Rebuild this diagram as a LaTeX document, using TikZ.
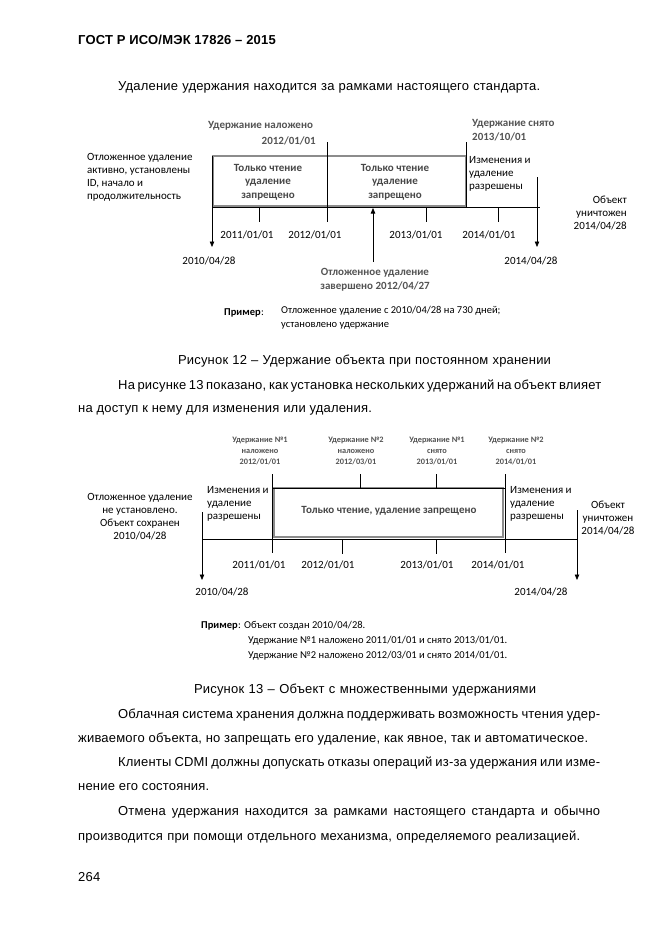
\documentclass[tikz,border=0pt]{standalone}
\usepackage{fontspec}
\setmainfont[LetterSpace=1.5]{Liberation Sans}
\newfontfamily\calf{Carlito}
\usetikzlibrary{arrows.meta}
\definecolor{lblgray}{gray}{0.33}
\definecolor{boxgray}{gray}{0.55}
\tikzset{
  body/.style={anchor=west,inner sep=0pt,font=\fontsize{13}{15}\selectfont},
  diag/.style={inner sep=0pt,font=\calf\fontsize{11}{13}\selectfont},
  lbl/.style={inner sep=0pt,text=lblgray,font=\calf\bfseries\fontsize{11}{13.5}\selectfont},
  slbl/.style={inner sep=0pt,text=lblgray,align=center,font=\calf\bfseries\fontsize{8.3}{10.8}\selectfont},
  boxtxt/.style={inner sep=0pt,text=black!72,align=center,font=\calf\bfseries\fontsize{11}{13.5}\selectfont},
  ex/.style={inner sep=0pt,anchor=west,font=\calf\fontsize{10.5}{14}\selectfont},
  ln/.style={line width=0.7pt,black},
  arr/.style={line width=0.7pt,black,-{Triangle[width=4.5pt,length=5.5pt]}},
  holdbox/.style={draw=boxgray,line width=1.4pt}
}
\begin{document}
\begin{tikzpicture}[x=1pt,y=-1pt]
\useasboundingbox (0,0) rectangle (661,935);
\fill[white] (0,0) rectangle (661,935);

% header and text
\node[body,font=\bfseries\fontsize{13}{15}\selectfont] (hdr) at (78,40) {ГОСТ Р ИСО/МЭК 17826 – 2015};
\node[body] (t1) at (118,87) {\makebox[422pt][s]{Удаление удержания находится за рамками настоящего стандарта.}};

% ---------------- Figure 12 ----------------
\draw[holdbox] (213,156) rectangle (466,206);
\coordinate (l12top) at (212,156);
\coordinate (l12bot) at (212,247);
\coordinate (tl12a) at (212,207);
\coordinate (tl12b) at (540,207);
\coordinate (d12top) at (327,142);
\coordinate (d12bot) at (327,222);
\coordinate (r12top) at (466,142);
\coordinate (r12bot) at (466,207);
\coordinate (k1a) at (259,207); \coordinate (k1b) at (259,222);
\coordinate (k2a) at (426,207); \coordinate (k2b) at (426,222);
\coordinate (k3a) at (498,207); \coordinate (k3b) at (498,222);
\coordinate (ra12top) at (537,177);
\coordinate (ra12bot) at (537,247);
\coordinate (ua12bot) at (373,262);
\coordinate (ua12top) at (373,208);
\draw[arr] (l12top) -- (l12bot);
\draw[ln] (tl12a) -- (tl12b);
\draw[ln] (d12top) -- (d12bot);
\draw[ln] (r12top) -- (r12bot);
\draw[ln] (k1a) -- (k1b);
\draw[ln] (k2a) -- (k2b);
\draw[ln] (k3a) -- (k3b);
\draw[arr] (ra12top) -- (ra12bot);
\draw[arr] (ua12bot) -- (ua12top);

\node[lbl,anchor=west] (h1a) at (208,126) {Удержание наложено};
\node[lbl,anchor=east] (h1b) at (316,141) {2012/01/01};
\node[lbl,anchor=west] (h2a) at (472,124) {Удержание снято};
\node[lbl,anchor=west] (h2b) at (472,137) {2013/10/01};
\node[diag,anchor=north west,align=left] (left12) at (87,153) {Отложенное удаление\\активно, установлены\\ID, начало и\\продолжительность};
\node[boxtxt] (b1) at (268,182) {Только чтение\\удаление\\запрещено};
\node[boxtxt] (b2) at (395,182) {Только чтение\\удаление\\запрещено};
\node[diag,anchor=north west,align=left] (ch12) at (469,156) {Изменения и\\удаление\\разрешены};
\node[diag,anchor=north east,align=right] (obj12) at (627,196) {Объект\\уничтожен\\2014/04/28};
\node[diag] (d1) at (247,235) {2011/01/01};
\node[diag] (d2) at (315,235) {2012/01/01};
\node[diag] (d3) at (416,235) {2013/01/01};
\node[diag] (d4) at (489,235) {2014/01/01};
\node[diag] (s12) at (209,261) {2010/04/28};
\node[diag] (e12) at (531,261) {2014/04/28};
\node[lbl,align=center] (done12) at (375,280) {Отложенное удаление\\завершено 2012/04/27};
\node[ex,font=\calf\bfseries\fontsize{10.5}{14}\selectfont] (ex12a) at (224,313) {Пример};
\node[ex] (ex12c) at (ex12a.east) {:};
\node[ex,align=left,anchor=north west] (ex12b) at (281,306) {Отложенное удаление с 2010/04/28 на 730 дней;\\установлено удержание};

% caption and text
\node[body,anchor=center] (cap12) at (364.5,361) {\makebox[373pt][s]{Рисунок 12 – Удержание объекта при постоянном хранении}};
\node[body] (p1) at (118,386) {\makebox[482pt][s]{На рисунке 13 показано, как установка нескольких удержаний на объект влияет}};
\node[body] (p2) at (78,410) {на доступ к нему для изменения или удаления.};

% ---------------- Figure 13 ----------------
\draw[holdbox,line width=1.2pt] (274,488) rectangle (503,537);
\coordinate (l13top) at (202,512);
\coordinate (l13bot) at (202,580);
\coordinate (tl13a) at (202,539);
\coordinate (tl13b) at (577,539);
\coordinate (v1top) at (272,474); \coordinate (v1bot) at (272,553);
\coordinate (v2top) at (360,474); \coordinate (v2bot) at (360,488);
\coordinate (v3top) at (436,474); \coordinate (v3bot) at (436,488);
\coordinate (v4top) at (505,474); \coordinate (v4bot) at (505,553);
\coordinate (m1a) at (342,539); \coordinate (m1b) at (342,554);
\coordinate (m2a) at (436,539); \coordinate (m2b) at (436,554);
\coordinate (ra13top) at (577,510);
\coordinate (ra13bot) at (577,580);
\draw[arr] (l13top) -- (l13bot);
\draw[ln] (tl13a) -- (tl13b);
\draw[ln] (v1top) -- (v1bot);
\draw[ln] (v2top) -- (v2bot);
\draw[ln] (v3top) -- (v3bot);
\draw[ln] (v4top) -- (v4bot);
\draw[ln] (m1a) -- (m1b);
\draw[ln] (m2a) -- (m2b);
\draw[arr] (ra13top) -- (ra13bot);
\draw[ln] (v1bot |- v2bot) -- (v4bot |- v2bot);

\node[slbl] (q1) at (260,451) {Удержание №1\\наложено\\2012/01/01};
\node[slbl] (q2) at (356,451) {Удержание №2\\наложено\\2012/03/01};
\node[slbl] (q3) at (437,451) {Удержание №1\\снято\\2013/01/01};
\node[slbl] (q4) at (516,451) {Удержание №2\\снято\\2014/01/01};
\node[diag,align=center] (left13) at (140,517) {Отложенное удаление\\не установлено.\\Объект сохранен\\2010/04/28};
\node[diag,anchor=north west,align=left] (ch13a) at (207,486) {Изменения и\\удаление\\разрешены};
\node[boxtxt] (b13) at (389,511) {Только чтение, удаление запрещено};
\node[diag,anchor=north west,align=left] (ch13b) at (510,486) {Изменения и\\удаление\\разрешены};
\node[diag,align=center] (obj13) at (608,518) {Объект\\уничтожен\\2014/04/28};
\node[diag] (f1) at (259,565) {2011/01/01};
\node[diag] (f2) at (328,565) {2012/01/01};
\node[diag] (f3) at (427,565) {2013/01/01};
\node[diag] (f4) at (498,565) {2014/01/01};
\node[diag] (s13) at (222,592) {2010/04/28};
\node[diag] (e13) at (541,592) {2014/04/28};
\node[ex,font=\calf\bfseries\fontsize{10.5}{14}\selectfont] (ex13a) at (201,626) {Пример};
\node[ex] (ex13b) at (ex13a.east) {: Объект создан 2010/04/28.};
\node[ex] (ex13c) at (248,641) {Удержание №1 наложено 2011/01/01 и снято 2013/01/01.};
\node[ex] (ex13d) at (248,656) {Удержание №2 наложено 2012/03/01 и снято 2014/01/01.};

% caption and text
\node[body,anchor=center] (cap13) at (365,690) {\makebox[342pt][s]{Рисунок 13 – Объект с множественными удержаниями}};
\node[body] (p3) at (118,715) {\makebox[482pt][s]{Облачная система хранения должна поддерживать возможность чтения удер-}};
\node[body] (p4) at (78,739) {\makebox[510pt][s]{живаемого объекта, но запрещать его удаление, как явное, так и автоматическое.}};
\node[body] (p5) at (118,763) {\makebox[482pt][s]{Клиенты CDMI должны допускать отказы операций из-за удержания или изме-}};
\node[body] (p6) at (78,787) {нение его состояния.};
\node[body] (p7) at (118,812) {\makebox[482pt][s]{Отмена удержания находится за рамками настоящего стандарта и обычно}};
\node[body] (p8) at (78,837) {\makebox[502pt][s]{производится при помощи отдельного механизма, определяемого реализацией.}};
\node[body] (pg) at (78,877) {264};
\end{tikzpicture}
\end{document}
